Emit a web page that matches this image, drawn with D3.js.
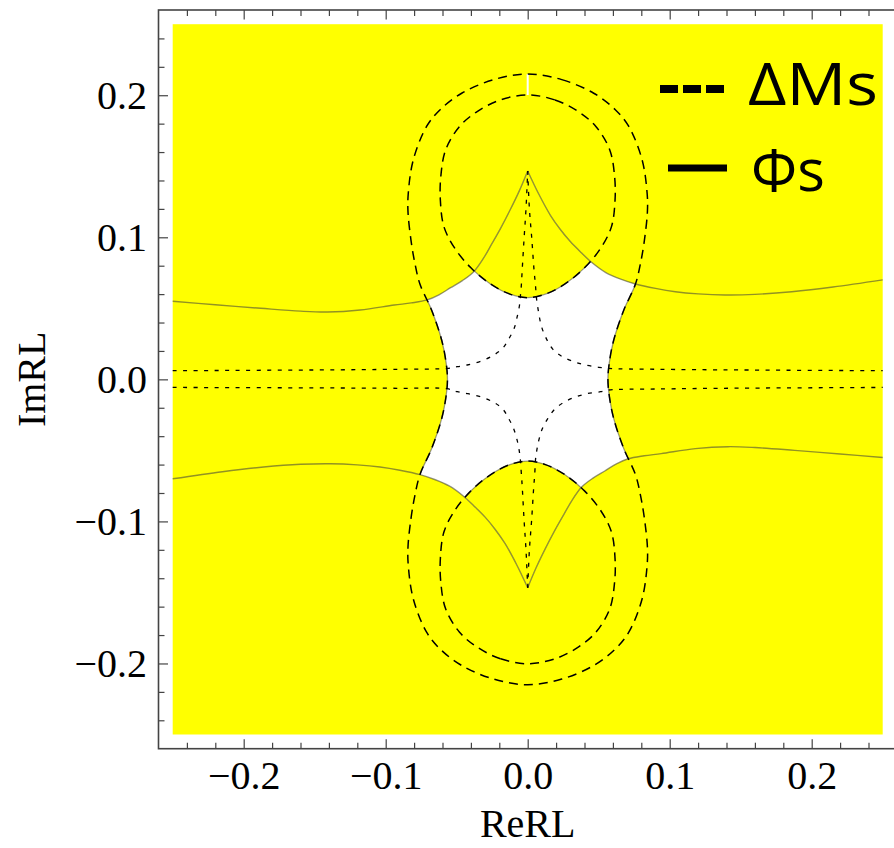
<!DOCTYPE html>
<html>
<head>
<meta charset="utf-8">
<script src="https://cdn.jsdelivr.net/npm/d3@7/dist/d3.min.js"></script>
<style>
  html, body { margin: 0; padding: 0; background: #ffffff; }
  svg { display: block; }
</style>
</head>
<body>
<svg id="chart" width="894" height="848"></svg>
<script>
// ---------------- data ----------------
const xTickLabels = ["\u22120.2", "\u22120.1", "0.0", "0.1", "0.2"];
const yTickLabels = ["\u22120.2", "\u22120.1", "0.0", "0.1", "0.2"];
const majorTicks = [-0.2, -0.1, 0.0, 0.1, 0.2];
const minorTicks = [-0.24, -0.22, -0.18, -0.16, -0.14, -0.12, -0.08, -0.06, -0.04, -0.02,
                    0.02, 0.04, 0.06, 0.08, 0.12, 0.14, 0.16, 0.18, 0.22, 0.24];
const xLabel = "ReRL";
const yLabel = "ImRL";
const legendLabels = ["\u0394Ms", "\u03A6s"];
const regionExtent = [[-0.25, -0.25], [0.25, 0.25]];

// outer ΔMs contour (closed, peanut shape)
const dmOuter = [
  [0, 0.215], [0.024, 0.211], [0.0465, 0.2014], [0.0615, 0.190], [0.0712, 0.178],
  [0.0806, 0.1544], [0.0841, 0.131], [0.0843, 0.118], [0.0822, 0.098], [0.0795, 0.082],
  [0.0759, 0.0671], [0.0677, 0.0488], [0.0606, 0.0277], [0.0575, 0.012], [0.0565, 0],
  [0.0575, -0.012], [0.0606, -0.0277], [0.0677, -0.0488], [0.0759, -0.0671], [0.0795, -0.082],
  [0.0822, -0.098], [0.0843, -0.118], [0.0841, -0.131], [0.0806, -0.1544], [0.0712, -0.178],
  [0.0615, -0.190], [0.0465, -0.2014], [0.024, -0.211], [0, -0.215],
  [-0.024, -0.211], [-0.0465, -0.2014], [-0.0615, -0.190], [-0.0712, -0.178], [-0.0806, -0.1544],
  [-0.0841, -0.131], [-0.0843, -0.118], [-0.0822, -0.098], [-0.0795, -0.082], [-0.0759, -0.0671],
  [-0.0677, -0.0488], [-0.0606, -0.0277], [-0.0575, -0.012], [-0.0565, 0], [-0.0575, 0.012],
  [-0.0606, 0.0277], [-0.0677, 0.0488], [-0.0759, 0.0671], [-0.0795, 0.082], [-0.0822, 0.098],
  [-0.0843, 0.118], [-0.0841, 0.131], [-0.0806, 0.1544], [-0.0712, 0.178], [-0.0615, 0.190],
  [-0.0465, 0.2014], [-0.024, 0.211]
];
// inner ΔMs contour, upper lobe (closed)
const dmInnerTop = [
  [0, 0.2002], [0.0192, 0.1967], [0.0356, 0.1885], [0.048, 0.178], [0.0578, 0.1615],
  [0.0612, 0.1427], [0.0615, 0.126], [0.059, 0.1075], [0.0515, 0.0925], [0.040, 0.0785],
  [0.026, 0.067], [0.0125, 0.060], [0, 0.0575], [-0.0125, 0.060], [-0.026, 0.067],
  [-0.040, 0.0785], [-0.0515, 0.0925], [-0.059, 0.1075], [-0.0615, 0.126], [-0.0612, 0.1427],
  [-0.0578, 0.1615], [-0.048, 0.178], [-0.0356, 0.1885], [-0.0192, 0.1967]
];
// inner ΔMs contour, lower lobe (closed)
const dmInnerBottom = [
  [0, -0.2002], [-0.0192, -0.1967], [-0.0356, -0.1885], [-0.048, -0.178], [-0.0578, -0.1615],
  [-0.0612, -0.1427], [-0.0615, -0.126], [-0.059, -0.1075], [-0.0515, -0.0925], [-0.040, -0.0785],
  [-0.026, -0.067], [-0.0125, -0.060], [0, -0.0575], [0.0125, -0.060], [0.026, -0.067],
  [0.040, -0.0785], [0.0515, -0.0925], [0.059, -0.1075], [0.0615, -0.126], [0.0612, -0.1427],
  [0.0578, -0.1615], [0.048, -0.178], [0.0356, -0.1885], [0.0192, -0.1967]
];
// Φs contours (solid gray), four branches meeting at the cusps
const phiUpperLeft = [
  [-0.25, 0.055], [-0.22, 0.0525], [-0.188, 0.0500], [-0.160, 0.0480], [-0.141, 0.0474],
  [-0.118, 0.0488], [-0.094, 0.0523], [-0.082, 0.0538], [-0.0708, 0.0559], [-0.0625, 0.0595],
  [-0.0543, 0.0645], [-0.046, 0.0695], [-0.038, 0.0758], [-0.031, 0.0855], [-0.0255, 0.095],
  [-0.019, 0.1065], [-0.0125, 0.119], [-0.006, 0.1325], [0, 0.1467]
];
const phiUpperRight = [
  [0, 0.1467], [0.0075, 0.131], [0.016, 0.1155], [0.023, 0.1055], [0.030, 0.097],
  [0.038, 0.089], [0.0454, 0.0821], [0.055, 0.0752], [0.0655, 0.0705], [0.0759, 0.0671],
  [0.090, 0.0640], [0.104, 0.0617], [0.120, 0.0602], [0.139, 0.0594], [0.160, 0.0598],
  [0.186, 0.0617], [0.215, 0.0650], [0.25, 0.070]
];
const phiLowerLeft = [
  [-0.25, -0.070], [-0.215, -0.0650], [-0.186, -0.0617], [-0.160, -0.0598], [-0.139, -0.0594],
  [-0.120, -0.0602], [-0.104, -0.0617], [-0.090, -0.0640], [-0.0759, -0.0671], [-0.0655, -0.0705],
  [-0.055, -0.0752], [-0.0454, -0.0821], [-0.038, -0.089], [-0.030, -0.097], [-0.023, -0.1055],
  [-0.016, -0.1155], [-0.0075, -0.131], [0, -0.1467]
];
const phiLowerRight = [
  [0, -0.1467], [0.006, -0.1325], [0.0125, -0.119], [0.019, -0.1065], [0.0255, -0.095],
  [0.031, -0.0855], [0.038, -0.0758], [0.046, -0.0695], [0.0543, -0.0645], [0.0625, -0.0595],
  [0.0708, -0.0559], [0.082, -0.0538], [0.094, -0.0523], [0.118, -0.0488], [0.141, -0.0474],
  [0.160, -0.0480], [0.188, -0.0500], [0.22, -0.0525], [0.25, -0.055]
];
// dotted contours, four branches
const dotUpperLeft = [
  [-0.25, 0.0061], [-0.15, 0.0066], [-0.09, 0.0071], [-0.0567, 0.0077], [-0.0496, 0.0089],
  [-0.0426, 0.0101], [-0.0325, 0.0130], [-0.0239, 0.0171], [-0.0175, 0.0220], [-0.0133, 0.0285],
  [-0.0095, 0.036], [-0.0074, 0.0441], [-0.0058, 0.052], [-0.0053, 0.057], [-0.0045, 0.066],
  [-0.0039, 0.0765], [-0.0025, 0.100], [-0.0012, 0.120], [0, 0.1467]
];
const dotUpperRight = [
  [0, 0.1467], [0.0012, 0.120], [0.0028, 0.100], [0.0045, 0.0765], [0.0055, 0.066],
  [0.0062, 0.057], [0.0078, 0.0465], [0.0095, 0.038], [0.0125, 0.030], [0.0175, 0.0215],
  [0.024, 0.0162], [0.0325, 0.0125], [0.0406, 0.0101], [0.050, 0.0085], [0.057, 0.0077],
  [0.09, 0.0071], [0.15, 0.0066], [0.25, 0.0061]
];
const dotLowerLeft = [
  [-0.25, -0.0057], [-0.15, -0.0060], [-0.09, -0.0063], [-0.0567, -0.0066], [-0.0496, -0.0087],
  [-0.042, -0.0101], [-0.032, -0.0127], [-0.0239, -0.0162], [-0.0175, -0.021], [-0.0133, -0.0278],
  [-0.0098, -0.035], [-0.0074, -0.0430], [-0.006, -0.050], [-0.0052, -0.0565], [-0.0045, -0.066],
  [-0.0038, -0.0765], [-0.0025, -0.100], [-0.0012, -0.120], [0, -0.1467]
];
const dotLowerRight = [
  [0, -0.1467], [0.0012, -0.120], [0.0027, -0.100], [0.0042, -0.0765], [0.005, -0.066],
  [0.0055, -0.0565], [0.0064, -0.050], [0.0078, -0.0430], [0.0102, -0.035], [0.014, -0.0278],
  [0.019, -0.021], [0.0257, -0.016], [0.0335, -0.0125], [0.042, -0.0100], [0.0513, -0.0087],
  [0.057, -0.0075], [0.09, -0.0068], [0.15, -0.0062], [0.25, -0.0057]
];
// small white rendering seam between the two upper dashed contours
const seamTop = [[0, 0.2002], [0, 0.215]];

// ---------------- drawing ----------------
const svg = d3.select("#chart");
const x = d3.scaleLinear().domain([-0.26, 0.26]).range([158.5, 896.9]);
const y = d3.scaleLinear().domain([-0.26, 0.26]).range([748.7, 10]);

const open = d3.line().x(d => x(d[0])).y(d => y(d[1])).curve(d3.curveCatmullRom.alpha(0.5));
const closed = d3.line().x(d => x(d[0])).y(d => y(d[1])).curve(d3.curveCatmullRomClosed.alpha(0.5));
const straight = d3.line().x(d => x(d[0])).y(d => y(d[1]));

const cont = s => s.replace(/^M/, "L");
const bandD = open(phiUpperLeft) + cont(open(phiUpperRight)) +
  cont(open(phiLowerRight.slice().reverse())) + cont(open(phiLowerLeft.slice().reverse())) + "Z";

const defs = svg.append("defs");
defs.append("clipPath").attr("id", "band").append("path").attr("d", bandD);
defs.append("clipPath").attr("id", "plotArea").append("rect")
  .attr("x", x(-0.26)).attr("y", y(0.26))
  .attr("width", x(0.26) - x(-0.26)).attr("height", y(-0.26) - y(0.26));

const YELLOW = "#ffff00";
const plot = svg.append("g").attr("clip-path", "url(#plotArea)");

// yellow region
plot.append("rect")
  .attr("x", x(regionExtent[0][0])).attr("y", y(regionExtent[1][1]))
  .attr("width", x(regionExtent[1][0]) - x(regionExtent[0][0]))
  .attr("height", y(regionExtent[0][1]) - y(regionExtent[1][1]))
  .attr("fill", YELLOW);

// white (excluded) region = inside outer contour, between Φs branches, outside inner lobes
const whiteG = plot.append("g").attr("clip-path", "url(#band)");
whiteG.append("path").attr("d", closed(dmOuter)).attr("fill", "#ffffff");
whiteG.append("path").attr("d", closed(dmInnerTop)).attr("fill", YELLOW);
whiteG.append("path").attr("d", closed(dmInnerBottom)).attr("fill", YELLOW);
// region edge
[dmOuter, dmInnerTop, dmInnerBottom].forEach(c => {
  whiteG.append("path").attr("d", closed(c)).attr("fill", "none")
    .attr("stroke", "#5a5a5a").attr("stroke-opacity", 0.6).attr("stroke-width", 1.3);
});

// seam
plot.append("path").attr("d", straight(seamTop)).attr("stroke", "#ffffff")
  .attr("stroke-width", 2).attr("fill", "none");

// Φs solid gray
[phiUpperLeft, phiUpperRight, phiLowerLeft, phiLowerRight].forEach(c => {
  plot.append("path").attr("d", open(c)).attr("fill", "none")
    .attr("stroke", "#4a4a3a").attr("stroke-opacity", 0.6).attr("stroke-width", 1.4);
});

// ΔMs dashed
[dmOuter, dmInnerTop, dmInnerBottom].forEach(c => {
  plot.append("path").attr("d", closed(c)).attr("fill", "none")
    .attr("stroke", "#000").attr("stroke-width", 1.5).attr("stroke-dasharray", "9,6");
});

// dotted
[dotUpperLeft, dotUpperRight, dotLowerLeft, dotLowerRight].forEach(c => {
  plot.append("path").attr("d", open(c)).attr("fill", "none")
    .attr("stroke", "#000").attr("stroke-width", 1.3).attr("stroke-dasharray", "4,6.5");
});

// ---------------- frame & axes ----------------
const FRAME = "#444";
const fmt = (d) => xTickLabels[majorTicks.indexOf(d)];
const fmtY = (d) => yTickLabels[majorTicks.indexOf(d)];

function styleAxis(g) {
  g.select(".domain").remove();
  g.selectAll(".tick line").attr("stroke", FRAME).attr("stroke-width", 1.2);
  g.selectAll("text").attr("font-family", "'Liberation Serif', 'Times New Roman', serif")
    .attr("font-size", 40).attr("fill", "#000");
}

const yB = y(-0.26), yT = y(0.26), xL = x(-0.26);
svg.append("g").attr("transform", `translate(0,${yB})`)
  .call(d3.axisBottom(x).tickValues(majorTicks).tickSize(-9.5).tickPadding(12).tickFormat(fmt))
  .call(styleAxis);
svg.append("g").attr("transform", `translate(0,${yB})`)
  .call(d3.axisBottom(x).tickValues(minorTicks).tickSize(-6).tickFormat(""))
  .call(styleAxis);
svg.append("g").attr("transform", `translate(0,${yT})`)
  .call(d3.axisTop(x).tickValues(majorTicks).tickSize(-9.5).tickFormat(""))
  .call(styleAxis);
svg.append("g").attr("transform", `translate(0,${yT})`)
  .call(d3.axisTop(x).tickValues(minorTicks).tickSize(-6).tickFormat(""))
  .call(styleAxis);
svg.append("g").attr("transform", `translate(${xL},0)`)
  .call(d3.axisLeft(y).tickValues(majorTicks).tickSize(-9.5).tickPadding(11.5).tickFormat(fmtY))
  .call(styleAxis);
svg.append("g").attr("transform", `translate(${xL},0)`)
  .call(d3.axisLeft(y).tickValues(minorTicks).tickSize(-6).tickFormat(""))
  .call(styleAxis);

svg.append("rect")
  .attr("x", xL).attr("y", yT).attr("width", x(0.26) - xL).attr("height", yB - yT)
  .attr("fill", "none").attr("stroke", FRAME).attr("stroke-width", 1.6);

// axis titles
svg.append("text").text(xLabel)
  .attr("x", x(0)).attr("y", 837).attr("text-anchor", "middle")
  .attr("font-family", "'Liberation Serif', 'Times New Roman', serif").attr("font-size", 40);
svg.append("text").text(yLabel)
  .attr("transform", `translate(45,${y(0)}) rotate(-90)`).attr("text-anchor", "middle")
  .attr("font-family", "'Liberation Serif', 'Times New Roman', serif").attr("font-size", 40);

// ---------------- legend ----------------
const leg = svg.append("g");
leg.append("line").attr("x1", 660).attr("x2", 724).attr("y1", 89).attr("y2", 89)
  .attr("stroke", "#000").attr("stroke-width", 8).attr("stroke-dasharray", "18,5");
leg.append("line").attr("x1", 668).attr("x2", 727).attr("y1", 168).attr("y2", 168)
  .attr("stroke", "#000").attr("stroke-width", 7);
leg.append("text").text(legendLabels[0]).attr("x", 748).attr("y", 105)
  .attr("textLength", 130).attr("lengthAdjust", "spacingAndGlyphs")
  .attr("font-family", "'Open Sans', 'Noto Sans', sans-serif").attr("font-size", 58).attr("fill", "#000");
leg.append("text").text(legendLabels[1]).attr("x", 751).attr("y", 191)
  .attr("font-family", "'Open Sans', 'Noto Sans', sans-serif").attr("font-size", 58).attr("fill", "#000");
</script>
</body>
</html>
